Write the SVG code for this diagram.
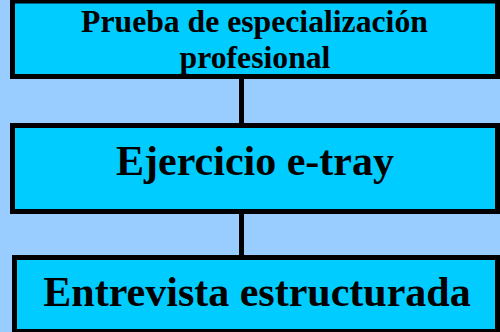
<svg xmlns="http://www.w3.org/2000/svg" width="500" height="332" viewBox="0 0 500 332">
<style>
.box{fill:#00CCFF;stroke:#000;stroke-width:5}
.t{font-family:"Liberation Serif","Times New Roman",serif;font-weight:bold;fill:#000;text-anchor:middle}
.conn{stroke:#000;stroke-width:5;fill:none}
</style>
<rect x="0" y="0" width="500" height="332" fill="#99CCFF"/>
<g id="connectors">
<line class="conn" x1="241.5" y1="79" x2="241.5" y2="123"/>
<line class="conn" x1="241.5" y1="214" x2="241.5" y2="255"/>
</g>
<g id="node1">
<rect class="box" x="12.5" y="1" width="485" height="75.5"/>
<text class="t" x="254.5" y="32" font-size="31.7">Prueba de especialización</text>
<text class="t" x="255" y="68" font-size="31.7">profesional</text>
</g>
<g id="node2">
<rect class="box" x="12.5" y="125.5" width="485" height="86"/>
<text class="t" x="255" y="175" font-size="42">Ejercicio e-tray</text>
</g>
<g id="node3">
<rect class="box" x="14.5" y="257.5" width="483" height="74"/>
<text class="t" x="257" y="306" font-size="42">Entrevista estructurada</text>
</g>
</svg>
